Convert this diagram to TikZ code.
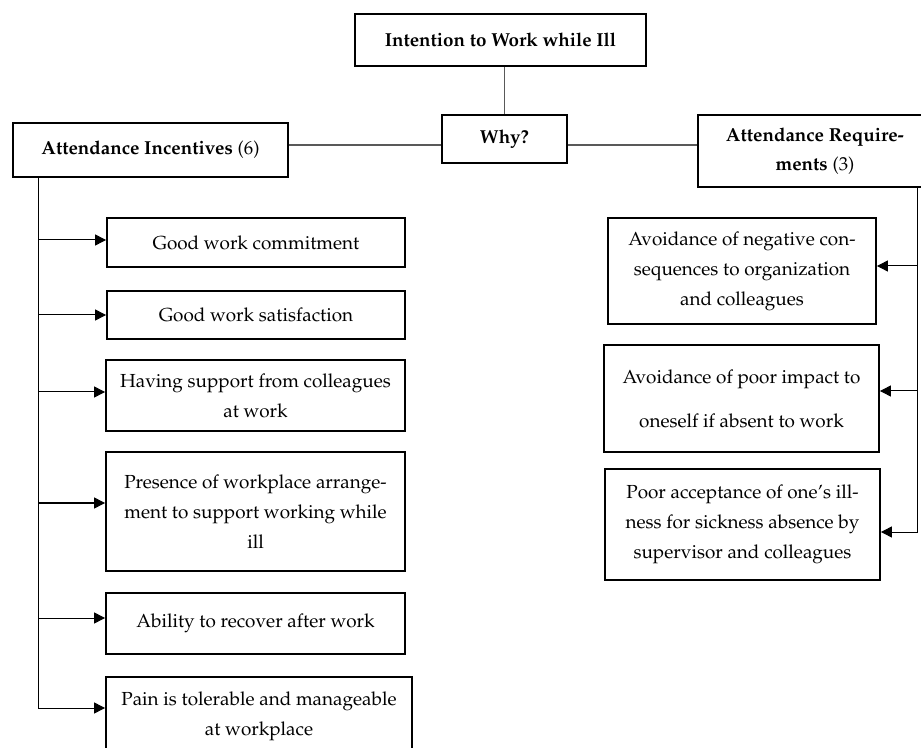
\documentclass[tikz,border=0pt]{standalone}
\usepackage[T1]{fontenc}
\usepackage{mathpazo}
\usetikzlibrary{arrows.meta,positioning,calc}

\begin{document}
\begin{tikzpicture}[x=0.5pt,y=-0.5pt,
  every node/.style={font=\fontsize{9.45}{15}\selectfont},
  hd/.style={draw=black,line width=0.9pt,align=center,inner sep=0pt,font=\fontsize{9.4}{14.5}\selectfont\bfseries},
  item/.style={draw=black,line width=0.9pt,align=center,inner sep=0pt},
  ln/.style={line width=0.6pt,black!65},
  ar/.style={-{Triangle[length=5.5pt,width=5.5pt]},line width=0.5pt}]
\useasboundingbox (0,0) rectangle (921,748);
% top of the tree
\node[hd,minimum width=145.5pt,minimum height=26pt] (top) at (500.5,40) {Intention to Work while Ill};
\node[hd,minimum width=62.5pt,minimum height=24pt] (why) at (504.5,139) {Why?};
\node[hd,minimum width=137.5pt,minimum height=27pt] (inc) at (150.5,150) {Attendance Incentives \textmd{(6)}};
\node[hd,minimum width=117pt,minimum height=36pt] (req) at (815,151) {Attendance Require-\\ments \textmd{(3)}};
% incentives
\node[item,minimum width=149pt,minimum height=24.5pt] (g1) at (256,242.5) {Good work commitment};
\node[item,minimum width=149pt,minimum height=24pt] (g2) at (256,315) {Good work satisfaction};
\node[item,minimum width=149.5pt,minimum height=35.5pt] (g3) at (255.5,395.5) {Having support from colleagues\\at work};
\node[item,minimum width=149.5pt,minimum height=59.5pt] (g4) at (255.5,511.5) {Presence of workplace arrange-\\ment to support working while\\ill};
\node[item,minimum width=149.5pt,minimum height=30.5pt] (g5) at (255.5,623.5) {Ability to recover after work};
\node[item,minimum width=153pt,minimum height=39pt] (g6) at (259,716) {Pain is tolerable and manageable\\at workplace};
% requirements
\node[item,minimum width=134pt,minimum height=53pt] (r1) at (742,271) {Avoidance of negative con-\\sequences to organization\\and colleagues};
\node[item,minimum width=137.5pt,minimum height=53.5pt] (r2) at (741.5,398.5) {Avoidance of poor impact to\\[7pt]oneself if absent to work};
\node[item,minimum width=137.5pt,minimum height=55.5pt] (r3) at (742.5,524.5) {Poor acceptance of one's ill-\\ness for sickness absence by\\supervisor and colleagues};
% links
\draw[ln] (why.north) -- (why.north |- top.south);
\draw[ln] ([yshift=-3pt]why.west) -- ([yshift=-3pt]why.west -| inc.east);
\draw[ln] ([yshift=-3pt]why.east) -- ([yshift=-3pt]why.east -| req.west);
\coordinate (lsp) at ([xshift=13pt]inc.south west);
\coordinate (rsp) at ([xshift=-7.5pt]req.south east);
\draw[ar] (lsp) |- ([yshift=4pt]g6.west);
\draw[ar] ([yshift=1.25pt]g1.west -| lsp) -- ([yshift=1.25pt]g1.west);
\draw[ar] (g2.west -| lsp) -- (g2.west);
\draw[ar] ([yshift=1.75pt]g3.west -| lsp) -- ([yshift=1.75pt]g3.west);
\draw[ar] ([yshift=4.25pt]g4.west -| lsp) -- ([yshift=4.25pt]g4.west);
\draw[ar] ([yshift=2.75pt]g5.west -| lsp) -- ([yshift=2.75pt]g5.west);
\draw[ar] (rsp) |- ([yshift=-3.75pt]r3.east);
\draw[ar] ([yshift=2.5pt]r1.east -| rsp) -- ([yshift=2.5pt]r1.east);
\draw[ar] ([yshift=3.75pt]r2.east -| rsp) -- ([yshift=3.75pt]r2.east);
\end{tikzpicture}
\end{document}
